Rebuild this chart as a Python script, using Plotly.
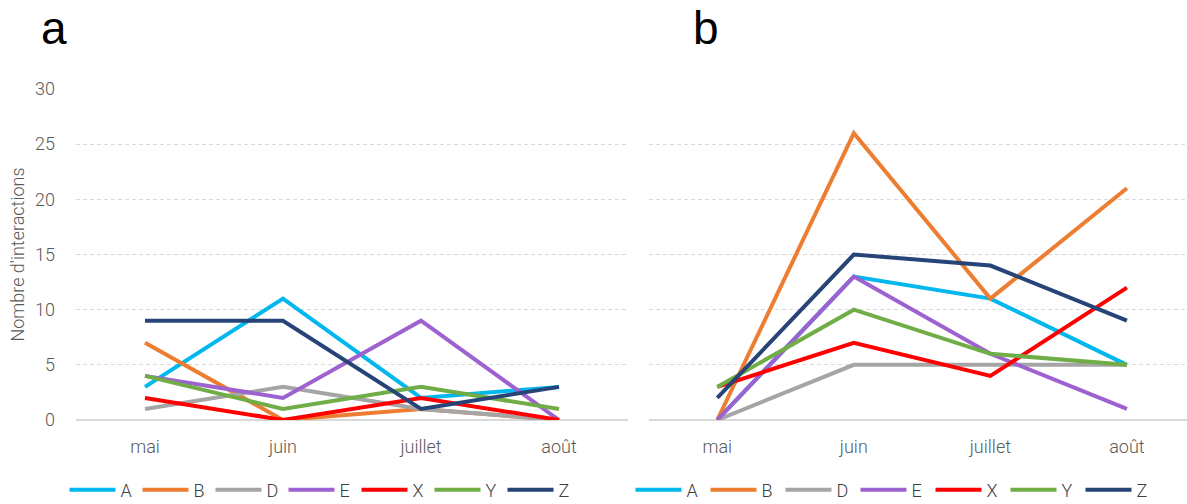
import plotly.graph_objects as go

months = ["mai", "juin", "juillet", "août"]
series = ["A", "B", "D", "E", "X", "Y", "Z"]
colors = ["#00B7EE", "#ED7D31", "#A5A5A5", "#9E62D0", "#FF0000", "#70AD47", "#264478"]

a_A = [3, 11, 2, 3]
a_B = [7, 0, 1, 0]
a_D = [1, 3, 1, 0]
a_E = [4, 2, 9, 0]
a_X = [2, 0, 2, 0]
a_Y = [4, 1, 3, 1]
a_Z = [9, 9, 1, 3]

b_A = [0, 13, 11, 5]
b_B = [0, 26, 11, 21]
b_D = [0, 5, 5, 5]
b_E = [0, 13, 6, 1]
b_X = [3, 7, 4, 12]
b_Y = [3, 10, 6, 5]
b_Z = [2, 15, 14, 9]

panel_a = [a_A, a_B, a_D, a_E, a_X, a_Y, a_Z]
panel_b = [b_A, b_B, b_D, b_E, b_X, b_Y, b_Z]
y_ticks = [0, 5, 10, 15, 20, 25, 30]

FONT = "Roboto"
fig = go.Figure()

for name, col, vals in zip(series, colors, panel_a):
    fig.add_trace(go.Scatter(x=months, y=vals, name=name, mode="lines",
                             line=dict(color=col, width=4),
                             xaxis="x", yaxis="y", legend="legend"))
for name, col, vals in zip(series, colors, panel_b):
    fig.add_trace(go.Scatter(x=months, y=vals, name=name, mode="lines",
                             line=dict(color=col, width=4),
                             xaxis="x2", yaxis="y2", legend="legend2"))

W, H = 1187, 504
def px_x(p):
    return p / W
def px_y(p):
    return 1 - p / H

tick_font = dict(family=FONT, size=18, color="#595959", weight=300)
xcommon = dict(type="category", showgrid=False, zeroline=False, showline=False,
               ticks="", ticklabelstandoff=14, tickfont=tick_font)
ycommon = dict(range=[0, 30], tickvals=y_ticks, showgrid=True, gridcolor="#D9D9D9",
               griddash="4px,3px", gridwidth=1, zeroline=True, zerolinecolor="#D9D9D9",
               zerolinewidth=1.5, showline=False, ticks="", tickfont=tick_font,
               domain=[px_y(420), px_y(89)])

leg_font = dict(family=FONT, size=18, color="#404040", weight=300)

fig.update_layout(
    width=W, height=H,
    margin=dict(l=0, r=0, t=0, b=0, autoexpand=False),
    paper_bgcolor="white", plot_bgcolor="white",
    font=dict(family=FONT, color="#595959"),
    hovermode=False,
    xaxis=dict(xcommon, domain=[px_x(76), px_x(628)], range=[-0.5, 3.5], anchor="y"),
    yaxis=dict(ycommon, anchor="x", ticklabelstandoff=20,
               title=dict(text="Nombre d'interactions", standoff=5, font=tick_font)),
    xaxis2=dict(xcommon, domain=[px_x(649), 1.0], range=[-0.5, 3.44], anchor="y2"),
    yaxis2=dict(ycommon, anchor="x2", showticklabels=False),
    legend=dict(orientation="h", x=px_x(320), xanchor="center", y=px_y(490), yanchor="middle",
                itemwidth=46, entrywidth=12, tracegroupgap=0, font=leg_font),
    legend2=dict(orientation="h", x=px_x(893), xanchor="center", y=px_y(490), yanchor="middle",
                 itemwidth=46, entrywidth=14, tracegroupgap=0, font=leg_font),
    annotations=[
        dict(text="a", x=px_x(54), y=px_y(28), xref="paper", yref="paper",
             xanchor="center", yanchor="middle", showarrow=False,
             font=dict(family="Liberation Sans", size=46, color="black")),
        dict(text="b", x=px_x(706), y=px_y(28), xref="paper", yref="paper",
             xanchor="center", yanchor="middle", showarrow=False,
             font=dict(family="Liberation Sans", size=46, color="black")),
    ],
)

fig.write_html("out.html", config={"displayModeBar": False},
               post_script="document.body.style.margin='0px';")
